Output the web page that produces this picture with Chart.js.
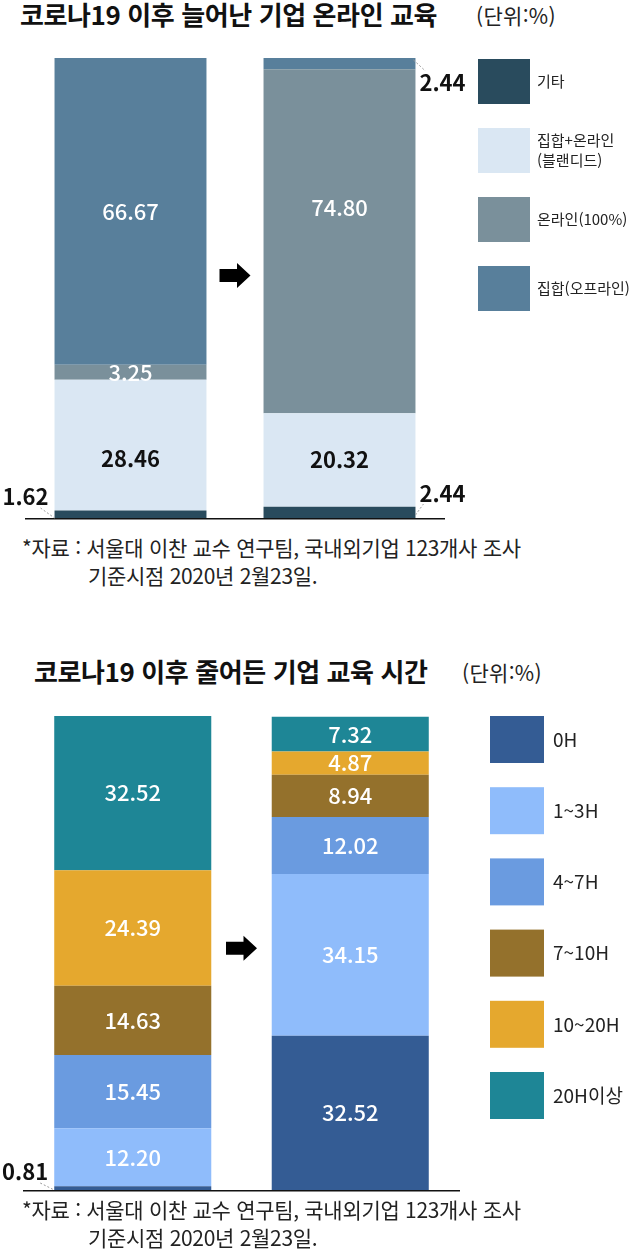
<!DOCTYPE html>
<html lang="ko">
<head>
<meta charset="utf-8">
<script src="https://cdn.jsdelivr.net/npm/chart.js@4"></script>
<style>
  body { margin: 0; width: 630px; height: 1253px; position: relative; background: #fff; font-family: "Noto Sans CJK KR", "Noto Sans", sans-serif; color: #111; overflow: hidden; }
  .title { position: absolute; font-weight: 700; font-size: 26px; line-height: 30px; letter-spacing: -0.4px; white-space: nowrap; }
  .unit { position: absolute; font-weight: 400; font-size: 21px; line-height: 30px; letter-spacing: 0.3px; white-space: nowrap; color: #222; }
  .note { position: absolute; left: 22px; font-size: 21px; line-height: 28px; letter-spacing: -0.3px; white-space: nowrap; color: #222; }
  .note span { display: block; padding-left: 66px; }
  .box { position: absolute; left: 0; width: 630px; }
</style>
</head>
<body>
<div class="title" style="left:20px;top:-1px">코로나19 이후 늘어난 기업 온라인 교육</div>
<div class="unit" style="left:476px;top:0px">(단위:%)</div>
<div class="box" style="top:40px;height:490px"><canvas id="online"></canvas></div>
<div class="note" style="top:533px">*자료 : 서울대 이찬 교수 연구팀, 국내외기업 123개사 조사<span>기준시점 2020년 2월23일.</span></div>

<div class="title" style="left:34px;top:656px">코로나19 이후 줄어든 기업 교육 시간</div>
<div class="unit" style="left:462px;top:657px">(단위:%)</div>
<div class="box" style="top:700px;height:500px"><canvas id="hours"></canvas></div>
<div class="note" style="top:1195px">*자료 : 서울대 이찬 교수 연구팀, 국내외기업 123개사 조사<span>기준시점 2020년 2월23일.</span></div>

<script>
// 코로나19 이후 늘어난 기업 온라인 교육 (이전, 이후)
const periods = ['이전', '이후'];
const onlineEtc = [1.62, 2.44];
const onlineBlended = [28.46, 20.32];
const onlineFull = [3.25, 74.80];
const onlineOffline = [66.67, 2.44];
const onlineNames = [['기타'], ['집합+온라인', '(블랜디드)'], ['온라인(100%)'], ['집합(오프라인)']];

// 코로나19 이후 줄어든 기업 교육 시간
const hours0 = [0.81, 32.52];
const hours1to3 = [12.20, 34.15];
const hours4to7 = [15.45, 12.02];
const hours7to10 = [14.63, 8.94];
const hours10to20 = [24.39, 4.87];
const hours20plus = [32.52, 7.32];
const hourNames = [['0H'], ['1~3H'], ['4~7H'], ['7~10H'], ['10~20H'], ['20H이상']];

const FONT = '"Noto Sans CJK KR", "Noto Sans", sans-serif';

const infoPlugin = {
  id: 'info',
  afterDatasetsDraw(chart, args, opts) {
    const ctx = chart.ctx;
    const a = chart.chartArea;
    ctx.save();

    // baseline
    ctx.strokeStyle = '#111';
    ctx.lineWidth = 1.5;
    ctx.beginPath();
    ctx.moveTo(a.left - 1, a.bottom + 0.75);
    ctx.lineTo(a.right + 1, a.bottom + 0.75);
    ctx.stroke();

    // value labels
    ctx.textBaseline = 'middle';
    chart.data.datasets.forEach((ds, di) => {
      chart.getDatasetMeta(di).data.forEach((bar, i) => {
        const p = bar.getProps(['x', 'y', 'base', 'width'], true);
        const text = ds.data[i].toFixed(2);
        const key = di + '-' + i;
        const co = opts.callouts[key];
        if (co) {
          const left = p.x - p.width / 2, right = p.x + p.width / 2;
          const ref = co.anchor === 'top' ? p.y : p.base;
          const ty = ref + co.dy;
          ctx.font = '700 22px ' + FONT;
          ctx.fillStyle = '#111';
          ctx.strokeStyle = '#9a9a9a';
          ctx.lineWidth = 1;
          ctx.setLineDash([2, 2]);
          ctx.beginPath();
          if (co.side === 'left') {
            ctx.textAlign = 'right';
            ctx.fillText(text, left - 6, ty);
            ctx.moveTo(left - 14, ty + 11);
            ctx.lineTo(left, ref);
          } else {
            ctx.textAlign = 'left';
            ctx.fillText(text, right + 4, ty);
            if (co.anchor === 'top') {
              ctx.moveTo(right - 2, ref + 2);
              ctx.lineTo(right + 10, ty - 12);
            } else {
              ctx.moveTo(right, ref - 3);
              ctx.lineTo(right + 8, ty + 10);
            }
          }
          ctx.stroke();
          ctx.setLineDash([]);
        } else {
          ctx.font = ds.labelWeight + ' 22px ' + FONT;
          ctx.fillStyle = ds.labelColor;
          ctx.textAlign = 'center';
          ctx.fillText(text, p.x, (p.y + p.base) / 2 + (opts.shift[key] || 0));
        }
      });
    });

    // arrow between bars
    const bars = chart.getDatasetMeta(0).data;
    const gapL = bars[0].x + bars[0].width / 2;
    const gapR = bars[1].x - bars[1].width / 2;
    const cx = (gapL + gapR) / 2;
    const cy = a.top + (a.bottom - a.top) * opts.arrowAt;
    ctx.fillStyle = '#000';
    ctx.beginPath();
    ctx.moveTo(cx - 15.5, cy - 6.5);
    ctx.lineTo(cx + 2, cy - 6.5);
    ctx.lineTo(cx + 2, cy - 12.5);
    ctx.lineTo(cx + 15.5, cy);
    ctx.lineTo(cx + 2, cy + 12.5);
    ctx.lineTo(cx + 2, cy + 6.5);
    ctx.lineTo(cx - 15.5, cy + 6.5);
    ctx.closePath();
    ctx.fill();

    // legend
    const L = opts.legend;
    chart.data.datasets.forEach((ds, di) => {
      const x = a.right + L.dx;
      const y = a.top + L.dy + di * L.step;
      ctx.fillStyle = ds.backgroundColor;
      ctx.fillRect(x, y, L.w, L.h);
      ctx.fillStyle = '#222';
      ctx.font = '400 ' + L.size + 'px ' + FONT;
      ctx.textAlign = 'left';
      const lines = opts.names[di];
      const lh = L.size * 1.3;
      lines.forEach((t, li) => {
        ctx.fillText(t, x + L.w + L.gap, y + L.h / 2 + (li - (lines.length - 1) / 2) * lh);
      });
    });
    ctx.restore();
  }
};

function baseOptions(pad, barPct, extra) {
  return {
    responsive: true,
    maintainAspectRatio: false,
    animation: false,
    layout: { padding: pad },
    scales: {
      x: { stacked: true, display: false },
      y: { stacked: true, display: false, min: 0, max: 100 }
    },
    datasets: { bar: { categoryPercentage: 1, barPercentage: barPct, borderWidth: 0 } },
    plugins: { legend: { display: false }, tooltip: { enabled: false }, info: extra }
  };
}

new Chart(document.getElementById('online'), {
  type: 'bar',
  data: {
    labels: periods,
    datasets: [
      { label: '기타', data: onlineEtc, backgroundColor: '#294b5d', labelColor: '#fff', labelWeight: 500 },
      { label: '집합+온라인(블랜디드)', data: onlineBlended, backgroundColor: '#dae7f3', labelColor: '#111', labelWeight: 700 },
      { label: '온라인(100%)', data: onlineFull, backgroundColor: '#7a909b', labelColor: '#fff', labelWeight: 500 },
      { label: '집합(오프라인)', data: onlineOffline, backgroundColor: '#587f9b', labelColor: '#fff', labelWeight: 500 }
    ]
  },
  options: baseOptions({ left: 26, right: 186, top: 18, bottom: 12 }, 0.727, {
    callouts: {
      '0-0': { side: 'left', anchor: 'bottom', dy: -21 },
      '0-1': { side: 'right', anchor: 'bottom', dy: -24 },
      '3-1': { side: 'right', anchor: 'top', dy: 25 }
    },
    shift: { '1-0': 14, '2-1': -34 },
    arrowAt: 0.473,
    names: onlineNames,
    legend: { dx: 34, dy: 1, step: 69, w: 52, h: 45, gap: 7, size: 15 }
  }),
  plugins: [infoPlugin]
});

new Chart(document.getElementById('hours'), {
  type: 'bar',
  data: {
    labels: periods,
    datasets: [
      { label: '0H', data: hours0, backgroundColor: '#345c94', labelColor: '#fff', labelWeight: 500 },
      { label: '1~3H', data: hours1to3, backgroundColor: '#8fbcfb', labelColor: '#fff', labelWeight: 500 },
      { label: '4~7H', data: hours4to7, backgroundColor: '#6a9be0', labelColor: '#fff', labelWeight: 500 },
      { label: '7~10H', data: hours7to10, backgroundColor: '#94712c', labelColor: '#fff', labelWeight: 500 },
      { label: '10~20H', data: hours10to20, backgroundColor: '#e5a82e', labelColor: '#fff', labelWeight: 500 },
      { label: '20H이상', data: hours20plus, backgroundColor: '#1e8696', labelColor: '#fff', labelWeight: 500 }
    ]
  },
  options: baseOptions({ left: 24, right: 171, top: 16, bottom: 10 }, 0.722, {
    callouts: {
      '0-0': { side: 'left', anchor: 'bottom', dy: -18 }
    },
    shift: {},
    arrowAt: 0.49,
    names: hourNames,
    legend: { dx: 31, dy: 0, step: 71.2, w: 54, h: 47, gap: 9, size: 19 }
  }),
  plugins: [infoPlugin]
});
</script>
</body>
</html>
